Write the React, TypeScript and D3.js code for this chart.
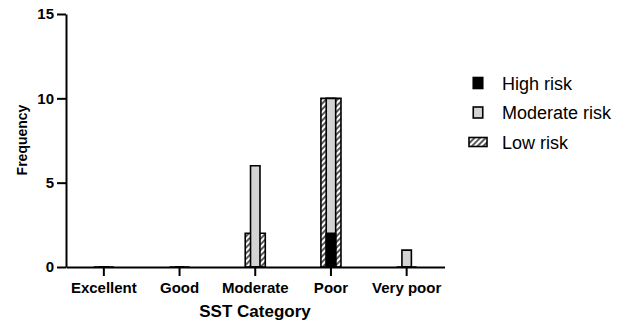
import React, { useRef, useEffect } from "react";
import { select, scaleBand, scaleLinear, axisLeft, axisBottom, path } from "d3";

// categories and series
const categories = ["Excellent", "Good", "Moderate", "Poor", "Very poor"];
const highRisk = [0, 0, 0, 2, 0];
const moderateRisk = [0, 0, 6, 10, 1];
const lowRisk = [0, 0, 2, 10, 0];
const yTicks = [0, 5, 10, 15];
const legendLabels = ["High risk", "Moderate risk", "Low risk"];

const FONT = "'Liberation Sans', Arial, sans-serif";

function barPath(x0: number, w: number, y0: number, y1: number) {
  const p = path();
  p.moveTo(x0, y0);
  p.lineTo(x0 + w, y0);
  p.lineTo(x0 + w, y1);
  p.lineTo(x0, y1);
  p.closePath();
  return p.toString();
}

function App() {
  const svgRef = useRef<SVGSVGElement>(null);

  useEffect(() => {
    const svg = select(svgRef.current);
    svg.selectAll("*").remove();

    const defs = svg.append("defs");
    const pat = defs
      .append("pattern")
      .attr("id", "hatch")
      .attr("patternUnits", "userSpaceOnUse")
      .attr("width", 4)
      .attr("height", 4)
      .attr("patternTransform", "rotate(45)");
    pat.append("rect").attr("width", 4).attr("height", 4).attr("fill", "white");
    pat.append("line").attr("x1", 1).attr("y1", 0).attr("x2", 1).attr("y2", 4)
      .attr("stroke", "black").attr("stroke-width", 1.3);

    const x = scaleBand().domain(categories).range([66, 444.5]).padding(0);
    const y = scaleLinear().domain([0, 15]).range([267, 14]);
    const bw = x.bandwidth();
    const wide = bw * 0.265;
    const narrow = bw * 0.125;

    const series = [
      { vals: lowRisk, w: wide, fill: "url(#hatch)" },
      { vals: moderateRisk, w: narrow, fill: "#d3d3d3" },
      { vals: highRisk, w: narrow, fill: "black" },
    ];

    const bars = svg.append("g");
    series.forEach((s) => {
      bars
        .selectAll(null)
        .data(categories)
        .join("path")
        .attr("d", (c, i) => {
          const cx = (x(c) as number) + bw / 2;
          return barPath(cx - s.w / 2, s.w, y(0), y(s.vals[i]));
        })
        .attr("fill", s.fill)
        .attr("stroke", "black")
        .attr("stroke-width", 1.6);
    });

    const yAxis = axisLeft(y).tickValues(yTicks).tickSize(9).tickSizeOuter(0).tickPadding(3);
    const gy = svg.append("g").attr("transform", "translate(66,0)").call(yAxis);
    const xAxis = axisBottom(x).tickSize(9).tickSizeOuter(0).tickPadding(6);
    const gx = svg.append("g").attr("transform", "translate(0,267)").call(xAxis);

    [gx, gy].forEach((g) => {
      g.selectAll("path, line").attr("stroke", "black").attr("stroke-width", 2);
      g.selectAll("text")
        .attr("fill", "black")
        .style("font-family", FONT)
        .style("font-weight", "bold")
        .style("font-size", "15px");
    });

    svg.append("text")
      .attr("transform", "translate(27,140) rotate(-90)")
      .attr("text-anchor", "middle")
      .style("font-family", FONT)
      .style("font-weight", "bold")
      .style("font-size", "14px")
      .text("Frequency");

    svg.append("text")
      .attr("x", 255)
      .attr("y", 317)
      .attr("text-anchor", "middle")
      .style("font-family", FONT)
      .style("font-weight", "bold")
      .style("font-size", "17px")
      .text("SST Category");

    // legend
    const legendY = scaleLinear().domain([0, 2]).range([83, 142]);
    const legendSym = [
      { w: 9.5, h: 11, fill: "black" },
      { w: 9.5, h: 11, fill: "#d3d3d3" },
      { w: 18, h: 9, fill: "url(#hatch)" },
    ];
    const lg = svg.append("g");
    legendLabels.forEach((lab, i) => {
      const cy = legendY(i);
      const sym = legendSym[i];
      lg.append("rect")
        .attr("x", 478 - sym.w / 2)
        .attr("y", cy - sym.h / 2)
        .attr("width", sym.w)
        .attr("height", sym.h)
        .attr("fill", sym.fill)
        .attr("stroke", "black")
        .attr("stroke-width", 1.6);
      lg.append("text")
        .attr("x", 502)
        .attr("y", cy + 6.5)
        .style("font-family", FONT)
        .style("font-size", "18px")
        .text(lab);
    });
  }, []);

  return (
    <div style={{ position: "absolute", left: 0, top: 0 }}>
      <svg ref={svgRef} width={622} height={324} style={{ background: "white", display: "block" }} />
    </div>
  );
}

export default App;
